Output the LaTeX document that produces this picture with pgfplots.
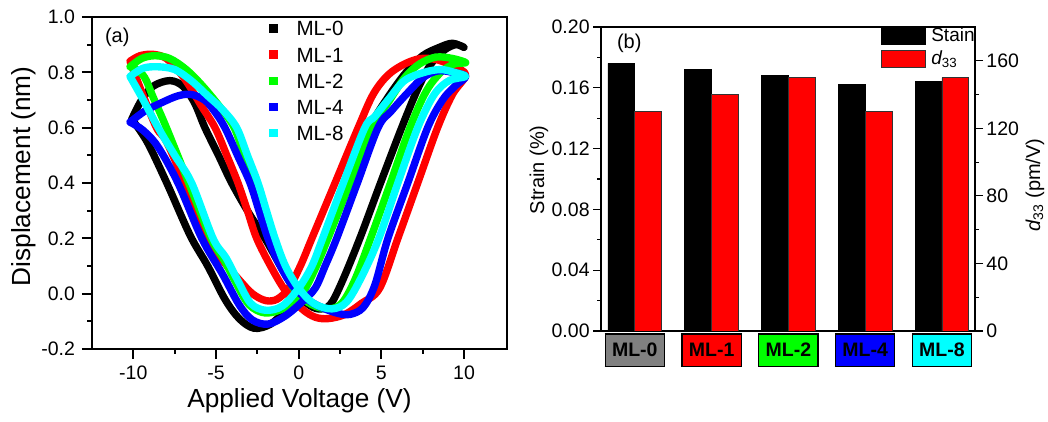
\documentclass[border=0pt]{standalone}
\usepackage{fontspec}
\setmainfont{Liberation Sans}
\usepackage{pgfplots}
\pgfplotsset{compat=1.18}

\definecolor{mlgray}{RGB}{128,128,128}
\definecolor{mlred}{RGB}{255,0,0}
\definecolor{mlgreen}{RGB}{0,255,0}
\definecolor{mlblue}{RGB}{0,0,255}
\definecolor{mlcyan}{RGB}{0,255,255}

% coloured category box under the bars
\newcommand{\catbox}[2]{{\setlength{\fboxsep}{0pt}\setlength{\fboxrule}{0.6pt}%
  \fcolorbox{black}{#1}{\makebox[29pt]{\rule[-4.5pt]{0pt}{15.5pt}\bfseries #2}}}}

\begin{document}
\begin{tikzpicture}
\useasboundingbox (0,0) rectangle (524pt,211pt);

% ---------------- (a) butterfly loops ----------------
\begin{axis}[
  at={(46pt,36.5pt)}, anchor=south west,
  scale only axis, width=207.5pt, height=166pt,
  xmin=-12.5, xmax=12.6, ymin=-0.2, ymax=1.0,
  xtick={-10,-5,0,5,10}, xticklabels={-10,-5,0,5,10},
  ytick={-0.2,0,0.2,0.4,0.6,0.8,1.0},
  yticklabels={-0.2,0.0,0.2,0.4,0.6,0.8,1.0},
  minor x tick num=1, minor y tick num=1,
  tick align=outside, xtick pos=left, ytick pos=left,
  major tick length=5pt, minor tick length=2.5pt,
  every tick/.style={black, line width=0.9pt},
  axis line style={line width=0.9pt},
  tick label style={font=\fontsize{9.75}{11}\selectfont},
  xlabel={Applied Voltage (V)}, ylabel={Displacement (nm)},
  label style={font=\fontsize{13.1}{14}\selectfont},
  xlabel style={at={(axis description cs:0.5,-0.175)}, anchor=base},
  ylabel style={at={(axis description cs:-0.149,0.52)}, anchor=base},
  legend image code/.code={\fill[#1, draw=none] (0pt,-2.1pt) rectangle (4.2pt,2.1pt);
    \path[draw=none] (0pt,0pt) -- (13.7pt,0pt);},
  legend style={at={(rel axis cs:0.426,0.989)}, anchor=north west, draw=none, fill=none,
    inner sep=0pt, row sep=5.7pt, font=\fontsize{10.3}{11}\selectfont,
    nodes={inner sep=0pt, text height=7.4pt, text depth=0pt}},
  legend cell align=left,
  every axis plot/.append style={line width=3.7pt, smooth, tension=0.55, line join=round, line cap=round},
]
% ML-0
\addplot[black] coordinates {
 (-10.1,0.63) (-9.5,0.70) (-8.8,0.75) (-7.8,0.77) (-7.0,0.75) (-6.3,0.69) (-5.67,0.60)
 (-4.85,0.50) (-4.05,0.40) (-3.0,0.29) (-2.04,0.20) (-1.1,0.10) (-0.3,0.02) (0.5,-0.035)
 (1.2,-0.055) (1.9,-0.04) (2.6,0.04) (3.7,0.20) (4.95,0.40) (6.23,0.60) (7.2,0.74)
 (8.0,0.83) (8.8,0.88) (9.5,0.90) (10.0,0.89)
 (9.3,0.905) (8.5,0.89) (7.5,0.86) (6.5,0.80) (5.4,0.71) (4.3,0.60) (3.0,0.40) (1.7,0.20)
 (0.8,0.08) (0.0,0.0) (-0.8,-0.06) (-1.7,-0.11) (-2.7,-0.125) (-3.6,-0.09) (-4.46,-0.02)
 (-5.5,0.10) (-6.56,0.21) (-7.9,0.39) (-9.0,0.53) (-9.6,0.59) (-10.1,0.63)};
% ML-1
\addplot[mlred] coordinates {
 (-10.2,0.84) (-9.6,0.86) (-8.8,0.865) (-8.0,0.85) (-7.2,0.80) (-6.6,0.75) (-5.9,0.68)
 (-5.06,0.60) (-4.35,0.50) (-3.67,0.40) (-3.1,0.30) (-2.54,0.20) (-1.7,0.10) (-0.8,0.01)
 (0.2,-0.055) (1.0,-0.085) (1.8,-0.09) (2.8,-0.075) (3.8,-0.035) (4.9,0.02) (6.0,0.20)
 (7.2,0.40) (8.4,0.60) (9.3,0.72) (10.1,0.79)
 (9.4,0.82) (8.4,0.845) (7.4,0.85) (6.4,0.83) (5.4,0.79) (4.5,0.72) (3.6,0.60) (2.2,0.40)
 (0.8,0.20) (0.1,0.10) (-0.6,0.02) (-1.3,-0.02) (-2.0,-0.025) (-2.8,0.0) (-3.6,0.05)
 (-4.6,0.12) (-5.6,0.20) (-6.9,0.40) (-8.0,0.55) (-8.6,0.60) (-9.5,0.73) (-10.2,0.84)};
% ML-2
\addplot[mlgreen] coordinates {
 (-10.2,0.82) (-9.5,0.85) (-8.7,0.86) (-7.8,0.85) (-6.8,0.81) (-5.8,0.75) (-4.7,0.67)
 (-3.9,0.60) (-3.3,0.50) (-2.7,0.40) (-2.2,0.30) (-1.67,0.20) (-1.0,0.10) (-0.2,0.01)
 (0.8,-0.04) (1.8,-0.055) (2.6,-0.035) (3.4,0.05) (4.35,0.20) (5.55,0.40) (6.73,0.60)
 (7.7,0.73) (8.6,0.80) (9.4,0.83) (10.1,0.835)
 (9.3,0.85) (8.3,0.855) (7.3,0.83) (6.4,0.78) (5.4,0.69) (4.41,0.60) (3.1,0.40) (1.77,0.20)
 (1.0,0.09) (0.2,0.0) (-0.8,-0.05) (-2.0,-0.07) (-3.0,-0.04) (-3.8,0.04) (-4.5,0.12)
 (-5.3,0.20) (-6.65,0.40) (-8.0,0.60) (-8.8,0.71) (-9.3,0.78) (-9.8,0.81) (-10.2,0.82)};
% ML-4
\addplot[mlblue] coordinates {
 (-10.2,0.62) (-9.3,0.66) (-8.3,0.69) (-7.3,0.715) (-6.5,0.72) (-5.7,0.70) (-5.1,0.66)
 (-4.46,0.60) (-3.7,0.50) (-2.94,0.40) (-2.4,0.30) (-1.86,0.20) (-1.2,0.11) (-0.4,0.03)
 (0.5,-0.02) (1.4,-0.05) (2.3,-0.07) (3.1,-0.075) (3.9,-0.05) (4.6,0.03) (5.4,0.20)
 (6.6,0.40) (7.8,0.60) (8.7,0.70) (9.45,0.75) (10.1,0.785)
 (9.3,0.80) (8.4,0.805) (7.5,0.78) (6.5,0.72) (5.6,0.66) (4.8,0.60) (3.55,0.40) (2.3,0.20)
 (1.6,0.10) (1.0,0.02) (0.2,-0.03) (-0.8,-0.08) (-1.85,-0.11) (-2.8,-0.095) (-3.6,-0.04)
 (-4.6,0.07) (-5.86,0.20) (-7.3,0.40) (-8.5,0.53) (-9.4,0.59) (-10.2,0.62)};
% ML-8
\addplot[mlcyan] coordinates {
 (-10.2,0.785) (-9.4,0.815) (-8.5,0.82) (-7.5,0.81) (-6.5,0.77) (-5.5,0.715) (-4.6,0.665)
 (-3.75,0.60) (-3.1,0.50) (-2.46,0.40) (-1.95,0.30) (-1.43,0.20) (-0.8,0.10) (0.0,0.02)
 (0.9,-0.035) (2.0,-0.055) (2.9,-0.03) (3.8,0.06) (4.85,0.20) (6.0,0.40) (7.2,0.60)
 (8.2,0.72) (9.1,0.77) (10.1,0.785)
 (9.4,0.80) (8.6,0.81) (7.6,0.80) (6.4,0.77) (5.4,0.70) (4.6,0.64) (4.0,0.60) (2.7,0.40)
 (1.45,0.20) (0.8,0.10) (0.0,0.02) (-1.0,-0.045) (-2.0,-0.06) (-2.9,-0.035) (-3.7,0.05)
 (-4.4,0.13) (-5.18,0.20) (-6.47,0.40) (-7.5,0.50) (-8.5,0.60) (-9.4,0.70) (-10.2,0.785)};
\legend{ML-0,ML-1,ML-2,ML-4,ML-8}
\node[anchor=west, font=\fontsize{10}{11}\selectfont] at (rel axis cs:0.0145,0.94) {(a)};
\end{axis}

% ---------------- (b) strain and d33 ----------------
\begin{axis}[
  at={(300.5pt,45.5pt)}, anchor=south west,
  scale only axis, width=187pt, height=152pt,
  xmin=-0.44, xmax=4.43, ymin=0, ymax=0.2,
  xtick={0,1,2,3,4},
  xticklabels={\catbox{mlgray}{ML-0},\catbox{mlred}{ML-1},\catbox{mlgreen}{ML-2},\catbox{mlblue}{ML-4},\catbox{mlcyan}{ML-8}},
  xtick style={draw=none},
  xticklabel style={anchor=north, inner sep=0pt, yshift=3pt},
  ytick={0,0.04,0.08,0.12,0.16,0.2},
  yticklabels={0.00,0.04,0.08,0.12,0.16,0.20},
  minor y tick num=1,
  tick align=outside, xtick pos=left, ytick pos=left,
  major tick length=4pt, minor tick length=2pt,
  every tick/.style={black, line width=0.6pt},
  axis line style={line width=0.6pt},
  tick label style={font=\fontsize{9.75}{11}\selectfont},
  yticklabel style={inner sep=1.5pt},
  ylabel={Strain (\%)},
  ylabel style={font=\fontsize{10}{11}\selectfont, at={(axis description cs:-0.152,0.53)}, anchor=base},
]
\addplot[ybar, bar width=0.35, bar shift=-0.175, fill=black, draw=black, line width=0.4pt]
  coordinates {(0,0.176) (1,0.172) (2,0.168) (3,0.162) (4,0.164)};
\node[anchor=west, font=\fontsize{10}{11}\selectfont] at (rel axis cs:0.024,0.947) {(b)};
\end{axis}

\begin{axis}[
  at={(300.5pt,45.5pt)}, anchor=south west,
  scale only axis, width=187pt, height=152pt,
  xmin=-0.44, xmax=4.43, ymin=0, ymax=180,
  axis x line=none, axis y line*=right,
  ytick={0,40,80,120,160}, yticklabels={0,40,80,120,160},
  minor y tick num=1,
  tick align=outside, major tick length=4pt, minor tick length=2pt,
  every tick/.style={black, line width=0.6pt},
  axis line style={line width=0.6pt},
  tick label style={font=\fontsize{9.75}{11}\selectfont},
  yticklabel style={inner sep=1.5pt},
  ylabel={{\itshape d}\textsubscript{33} (pm/V)},
  ylabel style={font=\fontsize{10}{11}\selectfont, at={(axis description cs:1.174,0.48)}, anchor=base},
  legend image code/.code={\draw[#1] (0pt,-4.25pt) rectangle (22pt,4.25pt);
    \path[draw=none, fill=none] (0pt,0pt) -- (25pt,0pt);},
  legend style={at={(rel axis cs:1,1)}, anchor=north east, draw=none, fill=none,
    inner sep=0pt, row sep=2.5pt, font=\fontsize{9.5}{10}\selectfont,
    nodes={inner sep=0pt, text height=7.2pt, text depth=1.5pt}},
  legend cell align=left,
]
\addlegendimage{fill=black, draw=black}
\addlegendentry{Stain}
\addplot[ybar, bar width=0.35, bar shift=0.175, fill=mlred, draw=black!80, line width=0.4pt]
  coordinates {(0,130) (1,140) (2,150) (3,130) (4,150)};
\addlegendentry{{\itshape d}\textsubscript{33}}
\end{axis}
\end{tikzpicture}
\end{document}
